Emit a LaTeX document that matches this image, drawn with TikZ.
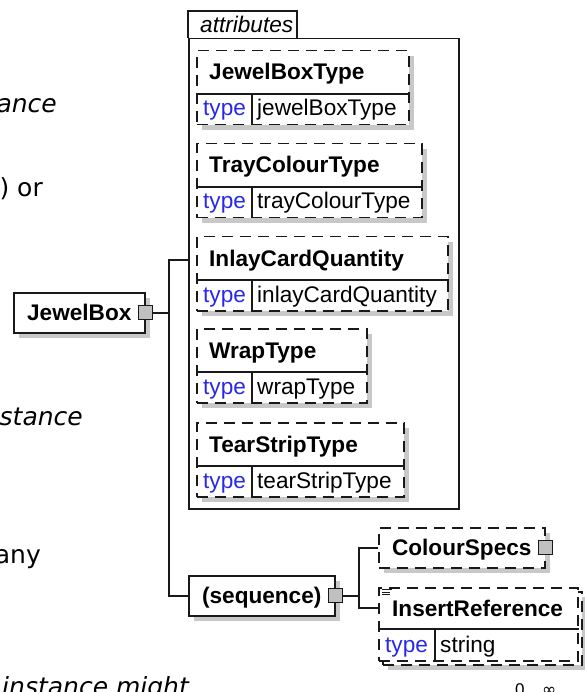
\documentclass[tikz,border=0pt]{standalone}
\usepackage{fontspec}
\setmainfont{Liberation Sans}
\newfontfamily\bgfont{DejaVu Sans}
\usetikzlibrary{calc,shadows}
\definecolor{shadowc}{RGB}{200,200,200}
\definecolor{typeblue}{RGB}{40,40,235}
\definecolor{linec}{RGB}{25,25,25}
\definecolor{squarec}{RGB}{192,192,192}
\tikzset{
  nametext/.style={font=\fontsize{22.6}{26}\selectfont\bfseries, inner sep=0pt, anchor=base west},
  typetext/.style={font=\fontsize{22.6}{26}\selectfont, text=typeblue, inner sep=0pt, anchor=base west},
  valtext/.style={font=\fontsize{22.6}{26}\selectfont, inner sep=0pt, anchor=base west},
  labeltext/.style={font=\fontsize{22.6}{26}\selectfont\itshape, inner sep=0pt, anchor=base west},
  bgit/.style={font=\bgfont\itshape\fontsize{25}{30}\selectfont, inner sep=0pt},
  bgrm/.style={font=\bgfont\fontsize{25}{30}\selectfont, inner sep=0pt},
  solidbox/.style={draw=linec, line width=1.5pt, fill=white, inner sep=0pt, anchor=north west},
  dashbox/.style={solidbox, dash pattern=on 11pt off 7pt},
  shadowed/.style={drop shadow={shadow xshift=5pt, shadow yshift=-5pt, fill=shadowc, opacity=1}},
  boxtext/.style={font=\fontsize{22.6}{26}\selectfont\bfseries, text height=16pt, text depth=0pt},
  expander/.style={draw=linec, line width=1.2pt, fill=squarec, minimum size=14pt, inner sep=0pt},
  conn/.style={draw=linec, line width=1.5pt},
  sepline/.style={draw=linec, line width=1.5pt},
}
\newcommand\attrbox[6]{%
  \node[dashbox, shadowed, minimum width=#4pt, minimum height=74pt] (#1) at (#2,#3) {};
  \draw[sepline] ($(#1.north west)+(0,44)$) -- ($(#1.north east)+(0,44)$);
  \draw[sepline] ($(#1.north west)+(56,44)$) -- ($(#1.south west)+(56,0)$);
  \node[nametext] (#1-name) at ($(#1.north west)+(13,30)$) {#5};
  \node[typetext] (#1-type) at ($(#1.north west)+(7,66)$) {type};
  \node[valtext] (#1-val) at ($(#1.north west)+(61,66)$) {#6};
}
\begin{document}
\begin{tikzpicture}[x=1pt,y=-1pt]
\useasboundingbox (0,0) rectangle (584,692);
% fragments of surrounding page text
\node[bgit, anchor=base east] (t1) at (57,113) {ance};
\node[bgrm, anchor=base east] (t2) at (43,197) {) or};
\node[bgit, anchor=base east] (t3) at (83,425) {stance};
\node[bgrm, anchor=base east] (t4) at (41,563) {any};
\node[bgit, anchor=base west] (t5) at (2,695) {instance might};
\node[font=\fontsize{17}{17}\selectfont, inner sep=0pt, anchor=base west] (mult) at (515,695) {0\hspace{4pt}..\hspace{4pt}{\bgfont ∞}};
% attributes container
\node[solidbox, minimum width=270pt, minimum height=470pt] (attrs) at (188,38) {};
\draw[conn] (attrs.north west) -- ++(0,-27) -- ++(109,0) -- ++(0,27);
\node[labeltext] (attrs-label) at (200,33) {attributes};
\attrbox{jbt}{196}{50}{212}{JewelBoxType}{jewelBoxType}
\attrbox{tct}{196}{143}{225}{TrayColourType}{trayColourType}
\attrbox{icq}{196}{236}{251}{InlayCardQuantity}{inlayCardQuantity}
\attrbox{wt}{196}{328}{170}{WrapType}{wrapType}
\attrbox{tst}{196}{422}{207}{TearStripType}{tearStripType}
% JewelBox
\node[solidbox, shadowed, boxtext, minimum width=131pt, minimum height=40pt] (jb) at (13,292) {JewelBox};
\node[expander] (jbx) at (jb.east) {};
% sequence
\node[solidbox, shadowed, boxtext, minimum width=146pt, minimum height=40pt] (seq) at (188,575) {(sequence)};
\node[expander] (seqx) at (seq.east) {};
% ColourSpecs
\node[dashbox, shadowed, boxtext, minimum width=166pt, minimum height=40pt] (cs) at (378,527) {ColourSpecs};
\node[expander] (csx) at (cs.east) {};
% InsertReference (repeated element)
\node[dashbox, shadowed, minimum width=199pt, minimum height=73pt] (irback) at (382,591) {};
\node[dashbox, minimum width=199pt, minimum height=73pt] (ir) at (378,587) {};
\draw[sepline] ($(ir.north west)+(0,42)$) -- ($(ir.north east)+(0,42)$);
\draw[sepline] ($(ir.north west)+(57,42)$) -- ($(ir.south west)+(57,0)$);
\node[nametext] (ir-name) at ($(ir.north west)+(14,29)$) {InsertReference};
\node[typetext] (ir-type) at ($(ir.north west)+(7,65)$) {type};
\node[valtext] (ir-val) at ($(ir.north west)+(62,65)$) {string};
\draw[linec, line width=0.8pt] ($(ir.north west)+(4,2.5)$) -- ++(10,0)
  ($(ir.north west)+(4,5)$) -- ++(8,0)
  ($(ir.north west)+(4,7.5)$) -- ++(8,0);
% connectors
\draw[conn] (jbx.east) -- ++(16,0) coordinate (bus1);
\coordinate (attrs-in) at (attrs.west |- 0,260);
\draw[conn] (attrs-in) -| (bus1) |- (seq.west);
\draw[conn] (seqx.east) -- ++(16,0) coordinate (bus2);
\coordinate (ir-in) at ($(ir.north west)+(0,21)$);
\draw[conn] (cs.west) -| (bus2) |- (ir-in);
\end{tikzpicture}
\end{document}
